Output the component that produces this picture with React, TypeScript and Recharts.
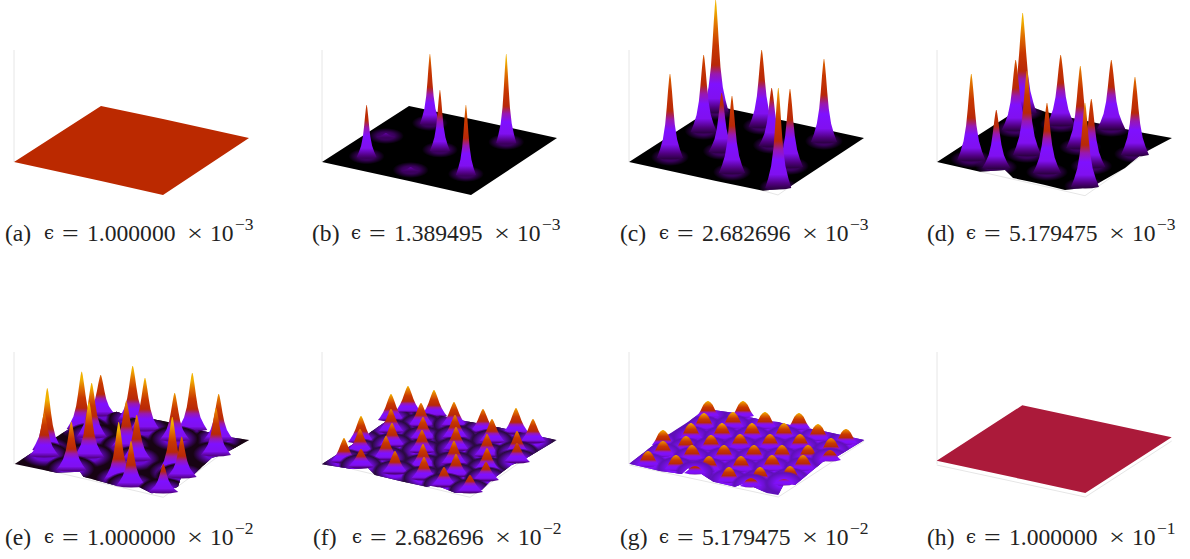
import React from 'react';
import { ComposedChart, Area, Bar, XAxis, YAxis } from 'recharts';

// All values, in projected plot units (x right, y down).
type Row = number[];

// plate rows: x, back edge, front edge
const plateA: Row[] = [[14, 162, 162], [101, 106, 181], [163, 119, 195], [249, 138, 138]];
const plateB: Row[] = [[14, 162, 162], [101, 106, 181], [163, 119, 195], [249, 138, 138]];
const plateC: Row[] = [[14, 162, 162], [101, 106, 181], [148, 116, 190.7], [173, 121.6, 188], [249, 138, 138]];
const plateD: Row[] = [[14, 162, 162], [57, 134, 171.7], [82, 118, 170], [90, 113, 178], [108.7, 107, 182], [122, 111.7, 185], [142, 116.5, 190], [168.7, 122, 187], [202, 129, 168], [218.7, 132.5, 154], [249, 138, 138]];
const plateE: Row[] = [[14.7, 162, 162], [56.7, 134.7, 170.7], [80, 120, 169.7], [83.3, 118, 174.7], [116.7, 109.7, 183.7], [135, 116, 183], [151.7, 117, 191.3], [163, 119, 190], [178, 122, 184.7], [181.7, 123, 173], [190, 126, 176], [211.7, 131, 156], [221.7, 134, 153], [249.3, 138, 138]];
const plateF: Row[] = [[13.7, 162.3, 162.3], [43.7, 143, 167], [60, 132, 166], [67, 127, 173], [92, 109.7, 179], [118.7, 110, 184.7], [127, 112, 183], [147, 117, 190.7], [157, 119, 190.7], [173.7, 122, 188], [183.7, 124, 178], [203.7, 128, 163], [215.3, 131, 158], [248.7, 138, 138]];
const plateG: Row[] = [[14.3, 161.7, 161.7], [45, 138, 169], [66.7, 124, 172], [73, 120, 166], [85, 111, 171], [98.3, 108, 179.7], [120, 111, 184.7], [130, 114, 181], [151.7, 119, 191], [163.3, 120, 193], [170, 122, 179.7], [180, 124, 183], [208, 129, 159.7], [221.7, 132, 154.7], [249.3, 138, 138]];
const plateH: Row[] = [[13.7, 158.7, 158.7], [99.3, 103.3, 177.3], [162.3, 116.7, 191], [248.7, 135.3, 135.3]];

// peak rows, back to front: x, tip, foot
const peaksB: Row[] = [[122, 54, 124], [198.3, 54, 143], [78, 133, 137], [132, 90, 150.7], [58.7, 105, 157.3], [102.7, 167, 171], [158, 105, 175]];
const peaksC: Row[] = [[100.7, 0, 112], [146.7, 50, 127], [88.7, 55, 132], [209, 59, 142], [156.7, 88, 146], [106.7, 93, 152], [55, 74, 158], [175, 89, 167], [117, 96, 173], [163.3, 88, 188]];
const peaksD: Row[] = [[99.7, 13, 113], [188.3, 60, 129], [137.7, 55, 125], [92.7, 60, 130], [212, 77, 155], [157.3, 66, 148], [104, 71, 155], [48.3, 74, 160], [168.3, 99, 167], [73.3, 110, 168], [124, 103, 173], [162, 103, 187]];
const peaksE: Row[] = [[100.7, 73, 113], [132.7, 64, 118], [81.7, 69.7, 127], [192.3, 71, 128], [145, 76, 128], [91.7, 81, 135], [218.7, 92, 138], [174.7, 91, 138], [126.3, 99, 145], [47.3, 86.3, 148], [216, 106, 153], [44.3, 111, 154], [89, 99.7, 155], [136.7, 113, 158], [71.3, 119.7, 168], [172.3, 115, 171], [181.7, 134.7, 175], [118.7, 120, 178], [131, 139, 184], [163.3, 162, 190]];
const peaksF: Row[] = [[100, 84, 110], [126, 88, 114], [83, 92, 118], [113, 101, 124], [146, 100, 124], [175, 107, 130], [208, 106, 131], [83, 107, 130], [115, 115, 137], [147, 113, 136], [184, 117, 140], [225, 117, 140], [53, 114, 140], [52, 127, 150], [84, 121, 144], [114, 128, 150], [148, 125, 148], [179, 132, 154], [209, 129, 152], [36, 136, 160], [78, 134, 157], [115, 142, 165], [146, 139, 162], [179, 146, 168], [209, 141, 160], [53, 147, 165], [87, 149, 171], [116, 155, 177], [148, 152, 174], [178, 160, 178], [136, 165, 184], [162, 173, 190]];
const peaksG: Row[] = [[93, 99, 114], [128, 99, 114], [89, 111, 126], [118, 110, 125], [150, 110, 125], [184, 111, 126], [48, 128, 143], [76, 121, 136], [107, 121, 136], [137, 121, 136], [169, 121, 136], [203, 122, 137], [231, 127, 141], [71, 134, 148], [96, 133, 147], [125, 132, 146], [155, 132, 146], [185, 132, 146], [216, 136, 150], [48, 139, 153], [77, 143, 157], [109, 143, 157], [139, 143, 157], [167, 143, 157], [193, 143, 157], [33, 149, 163], [61, 153, 167], [94, 154, 168], [126, 154, 168], [157, 153, 167], [188, 153, 167], [215, 148, 158], [80, 164, 171], [114, 165, 179], [145, 165, 179], [175, 164, 178], [136, 176, 184], [169, 177, 182]];

// thin frame polylines behind each surface
const axisLine: Row[] = [[14, 50], [14, 162]];
const frameC: Row[] = [[148, 190.7], [163, 195], [173, 188]];
const frameD: Row[] = [[57, 171.7], [162, 195.7], [220, 155]];
const frameE: Row[] = [[58, 170.7], [163.3, 195.3], [220, 153]];
const frameF: Row[] = [[43.7, 167], [162, 195.3], [215.3, 158]];
const frameG: Row[] = [[14.3, 163], [163.3, 195], [249.3, 139]];
const frameH: Row[] = [[13.7, 163], [162.3, 195], [248.7, 139]];

const mantissas = ['1.000000', '1.389495', '2.682696', '5.179475', '1.000000', '2.682696', '5.179475', '1.000000'];
const powers = ['−3', '−3', '−3', '−3', '−2', '−2', '−2', '−1'];
const letters = ['a', 'b', 'c', 'd', 'e', 'f', 'g', 'h'];

// silhouettes: fraction below the tip, half width fraction
const spike: Row[] = [[0, 0.02], [0.06, 0.07], [0.2, 0.15], [0.4, 0.25], [0.6, 0.37], [0.78, 0.55], [0.9, 0.77], [1, 1]];
const cone: Row[] = [[0, 0.03], [0.1, 0.13], [0.3, 0.28], [0.5, 0.42], [0.7, 0.6], [0.88, 0.82], [1, 1]];
const dome: Row[] = [[0, 0.04], [0.08, 0.22], [0.25, 0.42], [0.45, 0.55], [0.65, 0.68], [0.82, 0.82], [1, 1]];

const palette: [number, string][] = [
  [0, '#000000'], [0.05, '#1c0028'], [0.12, '#500080'], [0.2, '#8010f0'], [0.33, '#7f10ff'],
  [0.42, '#9818b0'], [0.5, '#b82808'], [0.68, '#c83800'], [0.85, '#e07000'], [1, '#f0b000'],
];

interface Panel {
  id: string;
  left: number;
  top: number;
  plate: Row[];
  plateColor: string;
  peaks?: Row[];
  frame?: Row[];
  span?: number;
  floor?: number;
  halfWidth?: number;
  haloRx?: number;
  haloRy?: number;
  haloColor?: string;
  mound?: boolean;
  profile?: Row[];
}

const panels: Panel[] = [
  { id: 'a', left: 0, top: 0, plate: plateA, plateColor: '#bb2900' },
  { id: 'b', left: 308, top: 0, plate: plateB, plateColor: '#000', peaks: peaksB, span: 92, floor: 0.1, halfWidth: 10, haloRx: 18, haloRy: 8, haloColor: '#500080', profile: spike },
  { id: 'c', left: 615, top: 0, plate: plateC, plateColor: '#000', peaks: peaksC, frame: frameC, span: 112, floor: 0.08, halfWidth: 13, haloRx: 19, haloRy: 9, haloColor: '#500080', profile: spike },
  { id: 'd', left: 923, top: 0, plate: plateD, plateColor: '#000', peaks: peaksD, frame: frameD, span: 100, floor: 0.08, halfWidth: 14, haloRx: 21, haloRy: 9, haloColor: '#500080', profile: spike },
  { id: 'e', left: 0, top: 302, plate: plateE, plateColor: '#170313', peaks: peaksE, frame: frameE, span: 58, floor: 0.14, halfWidth: 15, haloRx: 27, haloRy: 14, haloColor: '#6a08d0', mound: true, profile: spike },
  { id: 'f', left: 308, top: 302, plate: plateF, plateColor: '#2a0a40', peaks: peaksF, frame: frameF, span: 30, floor: 0.14, halfWidth: 13, haloRx: 23, haloRy: 13, haloColor: '#7d0cf5', mound: true, profile: cone },
  { id: 'g', left: 615, top: 302, plate: plateG, plateColor: '#5f10b8', peaks: peaksG, frame: frameG, span: 19, floor: 0.22, halfWidth: 11, haloRx: 20, haloRy: 12, haloColor: '#8010f8', mound: true, profile: dome },
  { id: 'h', left: 923, top: 302, plate: plateH, plateColor: '#ab1a3a', frame: frameH },
];

const PeakShape = (panel: Panel) => (props: any) => {
  const { x, y, width, height, index } = props;
  const cx = x + width / 2;
  const tip = Math.min(y, y + height);
  const foot = Math.max(y, y + height);
  const h = foot - tip;
  const W = panel.halfWidth ?? 10;
  const rows = panel.profile ?? spike;
  const right = rows.map(([f, w]) => `${cx + w * W},${tip + f * h}`);
  const left = rows.map(([f, w]) => `${cx - w * W},${tip + f * h}`).reverse();
  const path = `M${right.join(' L')} Q${cx},${foot + 3} ${left.join(' L')} Z`;
  const span = panel.span ?? 100;
  const floorPx = span * (panel.floor ?? 0);
  const gradId = `grad-${panel.id}-${index}`;
  const haloId = `halo-${panel.id}-${index}`;
  return (
    <g>
      <defs>
        <linearGradient id={gradId} gradientUnits="userSpaceOnUse" x1={0} x2={0} y1={foot + floorPx} y2={foot + floorPx - span}>
          {palette.map(([o, c]) => <stop key={o} offset={o} stopColor={c} />)}
        </linearGradient>
        {panel.mound ? (
          <radialGradient id={haloId}>
            <stop offset={0} stopColor={panel.haloColor} />
            <stop offset={0.4} stopColor={panel.haloColor} />
            <stop offset={0.85} stopColor={panel.plateColor} />
            <stop offset={1} stopColor={panel.plateColor} stopOpacity={0} />
          </radialGradient>
        ) : (
          <radialGradient id={haloId}>
            <stop offset={0} stopColor={panel.haloColor} />
            <stop offset={0.5} stopColor={panel.haloColor} stopOpacity={0.7} />
            <stop offset={1} stopColor={panel.haloColor} stopOpacity={0} />
          </radialGradient>
        )}
      </defs>
      <ellipse cx={cx} cy={foot - 1} rx={panel.haloRx} ry={panel.haloRy} fill={`url(#${haloId})`} clipPath={`url(#clip-${panel.id})`} />
      <path d={path} fill={`url(#${gradId})`} />
    </g>
  );
};

const lineRows = (rows: Row[]) => rows.map(([x, y]) => ({ x, y }));
const plateRows = (rows: Row[]) => rows.map(([x, back, front]) => ({ x, range: [back, front] }));
const peakRows = (rows: Row[]) => rows.map(([x, tip, foot]) => ({ x, range: [tip, foot] }));

// axes run one unit per pixel, so the plate outline doubles as the halo clip
const clipPoints = (rows: Row[]) =>
  [...rows.map(([x, back]) => `${x},${back}`), ...[...rows].reverse().map(([x, , front]) => `${x},${front}`)].join(' ');

const SurfacePanel = ({ panel }: { panel: Panel }) => (
  <div style={{ position: 'absolute', left: panel.left, top: panel.top, width: 270, height: 210 }}>
    <ComposedChart width={270} height={210} data={peakRows(panel.peaks ?? [])} margin={{ top: 0, right: 0, bottom: 0, left: 0 }} style={{ overflow: 'visible' }}>
      <defs>
        <clipPath id={`clip-${panel.id}`}>
          <polygon points={clipPoints(panel.plate)} />
        </clipPath>
      </defs>
      <XAxis type="number" dataKey="x" domain={[0, 270]} hide />
      <YAxis type="number" domain={[0, 210]} reversed hide />
      <Area data={lineRows(axisLine)} dataKey="y" stroke="#e6e6e6" strokeWidth={1} fill="none" dot={false} activeDot={false} isAnimationActive={false} />
      {panel.frame && (
        <Area data={lineRows(panel.frame)} dataKey="y" stroke="#e6e6e6" strokeWidth={1} fill="none" dot={false} activeDot={false} isAnimationActive={false} />
      )}
      <Area data={plateRows(panel.plate)} dataKey="range" stroke="none" fill={panel.plateColor} fillOpacity={1} dot={false} activeDot={false} isAnimationActive={false} />
      {panel.peaks && (
        <Bar dataKey="range" barSize={2} shape={PeakShape(panel)} isAnimationActive={false} />
      )}
    </ComposedChart>
  </div>
);

const captionLeft = [5, 312, 620, 927, 5, 313, 620, 927];
const captionTop = [220, 220, 220, 220, 524, 524, 524, 524];

const piece = (left: number): React.CSSProperties => ({ position: 'absolute', left, top: 0 });

export default function App() {
  return (
    <div style={{ position: 'absolute', left: 0, top: 0, width: 1190, height: 559, background: '#fff', overflow: 'hidden' }}>
      {panels.map((p) => <SurfacePanel key={p.id} panel={p} />)}
      {letters.map((l, i) => (
        <div key={l} style={{ position: 'absolute', left: captionLeft[i], top: captionTop[i], fontFamily: '"Liberation Serif", serif', fontSize: 23.6, lineHeight: '26px', whiteSpace: 'nowrap', color: '#222' }}>
          <span style={piece(0)}>({l})</span>
          <span style={{ ...piece(39), fontFamily: '"DejaVu Serif"', fontSize: 18 }}>ϵ</span>
          <span style={{ ...piece(57), transform: 'scaleX(1.25)', transformOrigin: 'left' }}>=</span>
          <span style={piece(82)}>{mantissas[i]}</span>
          <span style={{ ...piece(182), transform: 'scaleX(1.2)', transformOrigin: 'left' }}>×</span>
          <span style={piece(205)}>10</span>
          <span style={{ ...piece(230), fontSize: 17.5, top: -9 }}>{powers[i]}</span>
        </div>
      ))}
    </div>
  );
}
